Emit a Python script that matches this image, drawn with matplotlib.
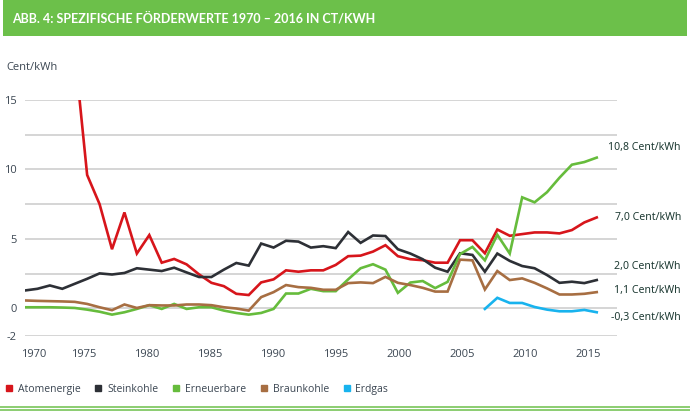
import numpy as np
import matplotlib
matplotlib.use('Agg')
import matplotlib.pyplot as plt
import matplotlib.transforms as mtransforms
from matplotlib.lines import Line2D
from matplotlib.patches import Rectangle

# --- data (ct/kWh) ---
years = np.arange(1970, 2017)

atom_years = np.arange(1974, 2017)
atomenergie = [18.5, 9.6, 7.5, 4.25, 6.9, 3.94, 5.27, 3.28, 3.55, 3.16,
               2.44, 1.83, 1.59, 1.04, 0.95, 1.86, 2.08, 2.73, 2.63, 2.73,
               2.73, 3.12, 3.75, 3.79, 4.08, 4.54, 3.75, 3.53, 3.46, 3.28,
               3.28, 4.9, 4.9, 3.96, 5.67, 5.22, 5.34, 5.46, 5.46, 5.39,
               5.63, 6.18, 6.54]

steinkohle = [1.28, 1.40, 1.64, 1.40, 1.76, 2.12, 2.51, 2.43, 2.54, 2.88,
              2.78, 2.68, 2.92, 2.58, 2.25, 2.25, 2.78, 3.26, 3.07, 4.66,
              4.37, 4.86, 4.80, 4.37, 4.47, 4.33, 5.49, 4.71, 5.24, 5.20,
              4.25, 3.94, 3.53, 2.92, 2.63, 3.96, 3.84, 2.63, 3.94, 3.41,
              3.04, 2.88, 2.39, 1.83, 1.91, 1.81, 2.03]

erneuerbare = [0.07, 0.07, 0.07, 0.05, 0.02, -0.1, -0.25, -0.46, -0.29, -0.05,
               0.22, -0.05, 0.31, -0.05, 0.07, 0.07, -0.17, -0.34, -0.46, -0.34,
               -0.05, 1.06, 1.06, 1.40, 1.23, 1.23, 2.08, 2.88, 3.17, 2.78,
               1.11, 1.85, 1.96, 1.45, 1.90, 3.9, 4.42, 3.45, 5.29, 3.94,
               7.99, 7.63, 8.36, 9.40, 10.34, 10.53, 10.85]

braunkohle = [0.56, 0.53, 0.51, 0.49, 0.46, 0.31, 0.07, -0.14, 0.27, 0.02,
              0.22, 0.20, 0.20, 0.27, 0.27, 0.22, 0.07, -0.02, -0.17, 0.80,
              1.16, 1.67, 1.52, 1.47, 1.33, 1.33, 1.81, 1.86, 1.81, 2.26,
              1.83, 1.67, 1.47, 1.20, 1.20, 3.5, 3.45, 1.35, 2.68, 2.03,
              2.15, 1.83, 1.43, 0.99, 0.99, 1.04, 1.16]

gas_years = np.arange(2007, 2017)
erdgas = [-0.05, 0.75, 0.38, 0.38, 0.09, -0.10, -0.22, -0.22, -0.12, -0.29]

series = [
    ('Atomenergie', atom_years, atomenergie, '#d7151b'),
    ('Steinkohle', years, steinkohle, '#2d3036'),
    ('Erneuerbare', years, erneuerbare, '#66bc3c'),
    ('Braunkohle', years, braunkohle, '#a76e42'),
    ('Erdgas', gas_years, erdgas, '#18b3ee'),
]

end_labels = ['10,8 Cent/kWh', '7,0 Cent/kWh', '2,0 Cent/kWh', '1,1 Cent/kWh', '-0,3 Cent/kWh']
end_label_y = [11.6, 6.55, 3.0, 1.3, -0.65]

x_tick_years = list(range(1970, 2016, 5))
grid_levels = [15, 12.5, 10, 7.5, 5, 2.5, 0, -2]
y_tick_text = ['15', '', '10', '', '5', '', '0', '-2']

title = 'ABB. 4: SPEZIFISCHE FÖRDERWERTE 1970 – 2016 IN CT/KWH'

# --- figure ---
W, H = 690, 419
fig = plt.figure(figsize=(W / 100, H / 100), dpi=100)
ax = fig.add_axes([25 / W, 1 - 336 / H, (617 - 25) / W, (336 - 100) / H])

txt_font = ['Open Sans', 'DejaVu Sans']
txt_col = '#3b4652'
green = '#6cc04a'

# header band
fig.patches.append(Rectangle((3 / W, 1 - 36 / H), (W - 6) / W, 36 / H,
                             transform=fig.transFigure, facecolor=green,
                             edgecolor='none', zorder=0))
fig.text(12 / W, 1 - 18 / H, title, color='white', fontsize=9.0, fontweight='bold',
         family=['Lato', 'DejaVu Sans'], va='center', ha='left')

# bottom double rule
for yy in (406.5, 410):
    fig.add_artist(Line2D([0, 1], [1 - yy / H, 1 - yy / H], transform=fig.transFigure,
                          color=green, lw=1.1))

for name, xs, ys, col in series:
    ax.plot(xs, ys, color=col, lw=1.9, solid_joinstyle='miter', label=name)

ax.set_xlim(1970, 2017.63)
ax.set_ylim(-2, 15)

for s in ax.spines.values():
    s.set_visible(False)
ax.set_yticks(grid_levels)
ax.set_yticklabels(y_tick_text)
ax.grid(axis='y', color='#cacaca', lw=1.1)
ax.set_axisbelow(True)

# x labels sit a bit wider apart than the data years in the original
stretch = 63 / (5 * 12.43)
ax.set_xticks([1970] + [1995 + (y - 1995) * stretch for y in x_tick_years[1:]])
ax.set_xticklabels([str(y) for y in x_tick_years])
ax.tick_params(length=0, labelsize=8, labelcolor=txt_col)
ax.tick_params(axis='x', pad=9)
ax.tick_params(axis='y', pad=6)
for lab in ax.get_xticklabels() + ax.get_yticklabels():
    lab.set_family(txt_font)

first_x = ax.xaxis.get_major_ticks()[0].label1
first_x.set_horizontalalignment('left')
first_x.set_transform(first_x.get_transform() +
                      mtransforms.ScaledTranslation(-4 / 100, 0, fig.dpi_scale_trans))

fig.text(6 / W, 1 - 67 / H, 'Cent/kWh', fontsize=8, color=txt_col, family=txt_font,
         va='center', ha='left')

# end-of-line value labels (figure x, data y)
lab_trans = mtransforms.blended_transform_factory(fig.transFigure, ax.transData)
for t, yv in zip(end_labels, end_label_y):
    ax.text(681 / W, yv, t, transform=lab_trans, ha='right', va='center',
            fontsize=7.6, fontweight='bold', color='#1d3a33',
            family=['Noto Sans', 'DejaVu Sans'], clip_on=False)

handles = [Line2D([], [], marker='s', ls='none', color=c, markersize=5) for _, _, _, c in series]
leg = fig.legend(handles, [s[0] for s in series], loc='center left',
                 bbox_to_anchor=(-4 / W, 1 - 389 / H), ncol=5, frameon=False,
                 handlelength=0.7, handletextpad=0.5, columnspacing=1.35,
                 prop={'family': txt_font, 'size': 7.5})
for t in leg.get_texts():
    t.set_color(txt_col)

fig.savefig('out.png', dpi=100)
